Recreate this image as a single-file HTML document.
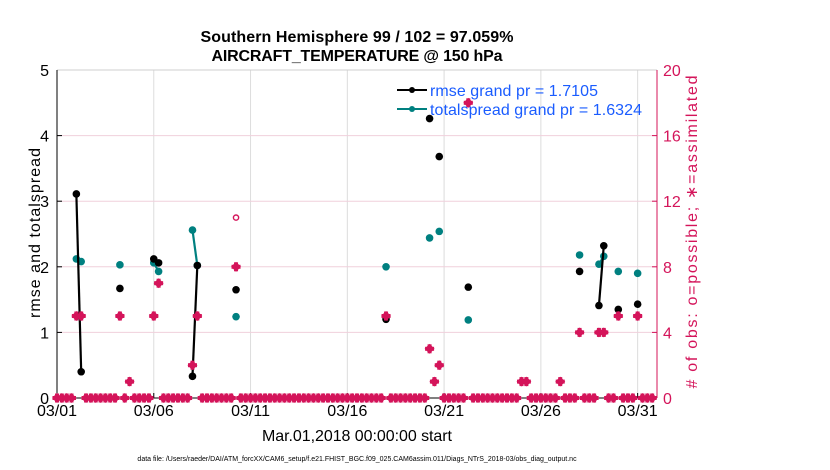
<!DOCTYPE html>
<html><head><meta charset="utf-8"><style>
body{margin:0;background:#fff;}
svg{display:block;font-family:"Liberation Sans",sans-serif;}
</style></head><body>
<svg id="chart" width="830" height="470">
<text x="357" y="42" text-anchor="middle" font-size="16" font-weight="bold" textLength="313">Southern Hemisphere 99 / 102 = 97.059%</text>
<text x="357" y="61" text-anchor="middle" font-size="16" font-weight="bold" textLength="291">AIRCRAFT_TEMPERATURE @ 150 hPa</text>
<g id="grid"></g><g id="axes"></g><g id="marks"></g>
<text x="357" y="441" text-anchor="middle" font-size="16" textLength="190">Mar.01,2018 00:00:00 start</text>
<text transform="translate(40,233) rotate(-90)" text-anchor="middle" font-size="16" textLength="170">rmse and totalspread</text>
<text transform="translate(697,232) rotate(-90)" text-anchor="middle" font-size="16" fill="#d4145a" textLength="313"># of obs: o=possible; ∗=assimilated</text>
<text x="357" y="461" text-anchor="middle" font-size="7">data file: /Users/raeder/DAI/ATM_forcXX/CAM6_setup/f.e21.FHIST_BGC.f09_025.CAM6assim.011/Diags_NTrS_2018-03/obs_diag_output.nc</text>
<g>
<line x1="397" y1="90" x2="427" y2="90" stroke="#000" stroke-width="2"/><circle cx="412" cy="90" r="3" fill="#000"/>
<text x="430" y="96" font-size="16" fill="#1a5cff" textLength="168">rmse grand pr = 1.7105</text>
<line x1="397" y1="109" x2="427" y2="109" stroke="#008080" stroke-width="2"/><circle cx="412" cy="109" r="3" fill="#008080"/>
<text x="430" y="115" font-size="16" fill="#1a5cff" textLength="212">totalspread grand pr = 1.6324</text>
</g>
</svg>
<script>
const NBINS = 124;
const binIdx   = [4,5,13,15,20,21,28,29,37,68,77,78,79,85,96,97,104,108,112,113,116,120];
const rmse     = [3.11,0.40,1.67,null,2.12,2.06,0.33,2.02,1.65,1.20,4.26,null,3.68,1.69,null,null,null,1.93,1.41,2.32,1.35,1.43];
const spread   = [2.12,2.08,2.03,null,2.06,1.93,2.56,2.02,1.24,2.00,2.44,null,2.54,1.19,null,null,null,2.18,2.04,2.16,1.93,1.90];
const nUsed    = [5,5,5,1,5,7,2,5,8,5,3,1,2,18,1,1,1,4,4,4,5,5];
const nPoss    = [5,5,5,1,5,7,2,5,11,5,3,1,2,18,1,1,1,4,4,4,5,5];
const dateTicks = ['03/01','03/06','03/11','03/16','03/21','03/26','03/31'];
const tickDays  = [0,5,10,15,20,25,30];
const leftTicks = [0,1,2,3,4,5];
const rightTicks= [0,4,8,12,16,20];

const X0=57,X1=657,Y0=398,Y1=70,DAYS=31;
const xDay=d=>X0+d*(X1-X0)/DAYS;
const xBin=b=>xDay(b/4);
const yL=v=>Y0-v*(Y0-Y1)/5;
const yR=v=>Y0-v*(Y0-Y1)/20;
const NS='http://www.w3.org/2000/svg';
function mk(tag,attrs,parent){const e=document.createElementNS(NS,tag);for(const k in attrs)e.setAttribute(k,attrs[k]);parent.appendChild(e);return e;}
const grid=document.getElementById('grid'),axes=document.getElementById('axes'),marks=document.getElementById('marks');

tickDays.forEach((d,i)=>{
  const g=mk('line',{x1:xDay(d),x2:xDay(d),y1:Y1,y2:Y0,stroke:'#dcdcdc','stroke-width':1},grid);
  
  
  mk('line',{x1:xDay(d),x2:xDay(d),y1:Y0,y2:Y0-5,stroke:'#000'},axes);
  const t=mk('text',{x:xDay(d),y:Y0+18,'text-anchor':'middle','font-size':16},axes);
  t.textContent=dateTicks[i];
  
  
});
rightTicks.forEach(v=>{
  if(v>0&&v<20){const g=mk('line',{x1:X0,x2:X1,y1:yR(v),y2:yR(v),stroke:'#f0d0dc','stroke-width':1},grid);
  
  }
  mk('line',{x1:X1,x2:X1-5,y1:yR(v),y2:yR(v),stroke:'#d4145a'},axes);
  const t=mk('text',{x:X1+6,y:yR(v)+6,'font-size':16,fill:'#d4145a'},axes);
  t.textContent=v;
  
  
});
leftTicks.forEach(v=>{
  mk('line',{x1:X0,x2:X0+5,y1:yL(v),y2:yL(v),stroke:'#000'},axes);
  const t=mk('text',{x:X0-8,y:yL(v)+6,'text-anchor':'end','font-size':16},axes);
  t.textContent=v;
  
  
});
mk('line',{x1:X0,x2:X1,y1:Y1,y2:Y1,stroke:'#cfcfcf'},axes);
mk('line',{x1:X0,x2:X1,y1:Y0,y2:Y0,stroke:'#000'},axes);
mk('line',{x1:X0,x2:X0,y1:Y1,y2:Y0,stroke:'#000'},axes);
mk('line',{x1:X1,x2:X1,y1:Y1,y2:Y0,stroke:'#d4145a'},axes);

function star(cx,cy){
  const g=mk('g',{fill:'#d4145a'},marks);
  mk('rect',{x:cx-4.5,y:cy-2,width:9,height:4},g);
  mk('rect',{x:cx-2,y:cy-4.5,width:4,height:9},g);
  mk('rect',{x:cx-3.5,y:cy-3.5,width:7,height:7,transform:`rotate(45 ${cx} ${cy})`},g);
  
  
}
for(let b=0;b<NBINS;b++){ if(binIdx.indexOf(b)<0) star(xBin(b),yR(0)); }
binIdx.forEach((b,i)=>{ if(nPoss[i]!==nUsed[i]){const c=mk('circle',{cx:xBin(b),cy:yR(nPoss[i]),r:2.6,fill:'none',stroke:'#d4145a','stroke-width':1.4},marks);
  
  }});
function series(vals,color,name){
  for(let i=0;i<binIdx.length-1;i++){
    if(vals[i]!=null&&vals[i+1]!=null&&binIdx[i+1]-binIdx[i]===1){
      const l=mk('line',{x1:xBin(binIdx[i]),y1:yL(vals[i]),x2:xBin(binIdx[i+1]),y2:yL(vals[i+1]),stroke:color,'stroke-width':2.2},marks);
      
      
    }
  }
  binIdx.forEach((b,i)=>{ if(vals[i]!=null){const c=mk('circle',{cx:xBin(b),cy:yL(vals[i]),r:3.8,fill:color},marks);
    
    }});
}
series(spread,'#008080','totalspread');
series(rmse,'#000000','rmse');
binIdx.forEach((b,i)=>star(xBin(b),yR(nUsed[i])));
</script>
</body></html>
